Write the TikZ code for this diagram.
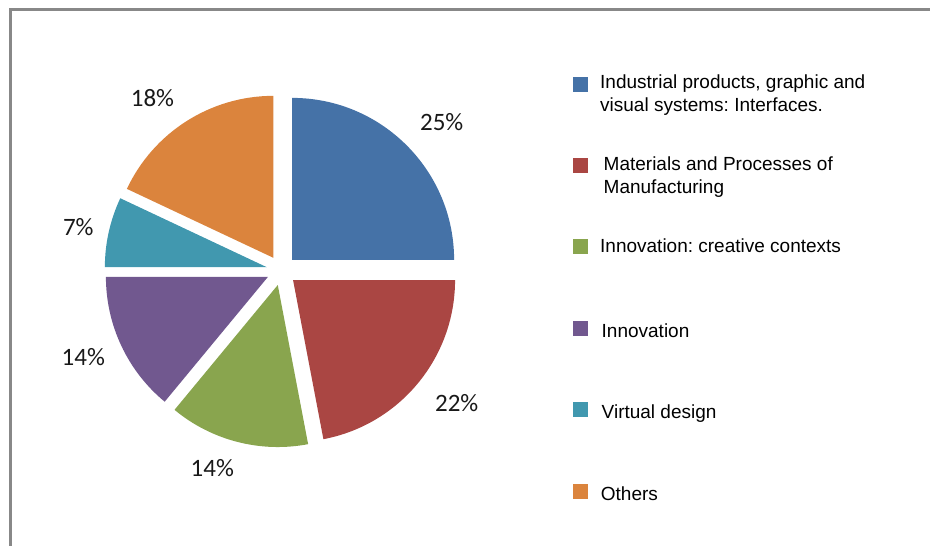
\documentclass[tikz,border=0pt]{standalone}
\usepackage{fontspec}
\setmainfont{Liberation Sans}
\newfontfamily\calib{Carlito}
\usetikzlibrary{calc}
\frenchspacing
\definecolor{cblue}{HTML}{4572A7}
\definecolor{cred}{HTML}{AA4643}
\definecolor{cgreen}{HTML}{89A54E}
\definecolor{cpurple}{HTML}{71588F}
\definecolor{cteal}{HTML}{4198AF}
\definecolor{corange}{HTML}{DB843D}
\definecolor{framegray}{HTML}{888888}
\tikzset{
  pct/.style={font=\calib\fontsize{25}{29}\selectfont, text=black!90, inner sep=0pt, anchor=center},
  legtext/.style={font=\fontsize{19}{23}\selectfont\frenchspacing, text=black, inner sep=0pt, anchor=base west},
  legbox/.style={minimum size=15pt, inner sep=0pt, draw=none, anchor=center},
}
\begin{document}
\begin{tikzpicture}[x=1pt,y=-1pt]
\useasboundingbox (0,0) rectangle (930,546);
% frame
\draw[framegray, line width=2.6pt] (10.7,546) -- (10.7,9.5) -- (930,9.5);
% pie
\begin{scope}[shift={(281.5,270.5)}, y=1pt]
  \def\R{162}
  \def\D{15}
  \fill[cblue]   (45:\D)     -- ++(90:\R)     arc (90:0:\R)         -- cycle;
  \fill[cred]    (-39.6:\D)  -- ++(0:\R)      arc (0:-79.2:\R)      -- cycle;
  \fill[cgreen]  (-104.4:\D) -- ++(-79.2:\R)  arc (-79.2:-129.6:\R) -- cycle;
  \fill[cpurple] (-154.8:\D) -- ++(-129.6:\R) arc (-129.6:-180:\R)  -- cycle;
  \fill[cteal]   (167.4:\D)  -- ++(180:\R)    arc (180:154.8:\R)    -- cycle;
  \fill[corange] (122.4:\D)  -- ++(154.8:\R)  arc (154.8:90:\R)     -- cycle;
\end{scope}
% percentage labels
\node[pct] (p25) at (441.7,121.7) {25\%};
\node[pct] (p22) at (456.7,403.3) {22\%};
\node[pct] (p14b) at (212.3,468) {14\%};
\node[pct] (p14l) at (83.3,356.7) {14\%};
\node[pct] (p7) at (78.3,226.7) {7\%};
\node[pct] (p18) at (152.5,98) {18\%};
% legend
\node[legbox, fill=cblue]   (lb1) at (580.8,84) {};
\node[legbox, fill=cred]    (lb2) at (580.8,165) {};
\node[legbox, fill=cgreen]  (lb3) at (580.8,246.5) {};
\node[legbox, fill=cpurple] (lb4) at (580.8,328.3) {};
\node[legbox, fill=cteal]   (lb5) at (580.8,409.7) {};
\node[legbox, fill=corange] (lb6) at (580.8,491.7) {};
\node[legtext] (t1a) at (600,88.6) {Industrial products, graphic and};
\node[legtext] (t1b) at (600,111.6) {visual systems: Interfaces.};
\node[legtext] (t2a) at (603.5,170.3) {Materials and Processes of};
\node[legtext] (t2b) at (603.5,193.3) {Manufacturing};
\node[legtext] (t3) at (600,252) {Innovation: creative contexts};
\node[legtext] (t4) at (601.5,337) {Innovation};
\node[legtext] (t5) at (601.5,418.6) {Virtual design};
\node[legtext] (t6) at (600.7,500.3) {Others};
\end{tikzpicture}
\end{document}
